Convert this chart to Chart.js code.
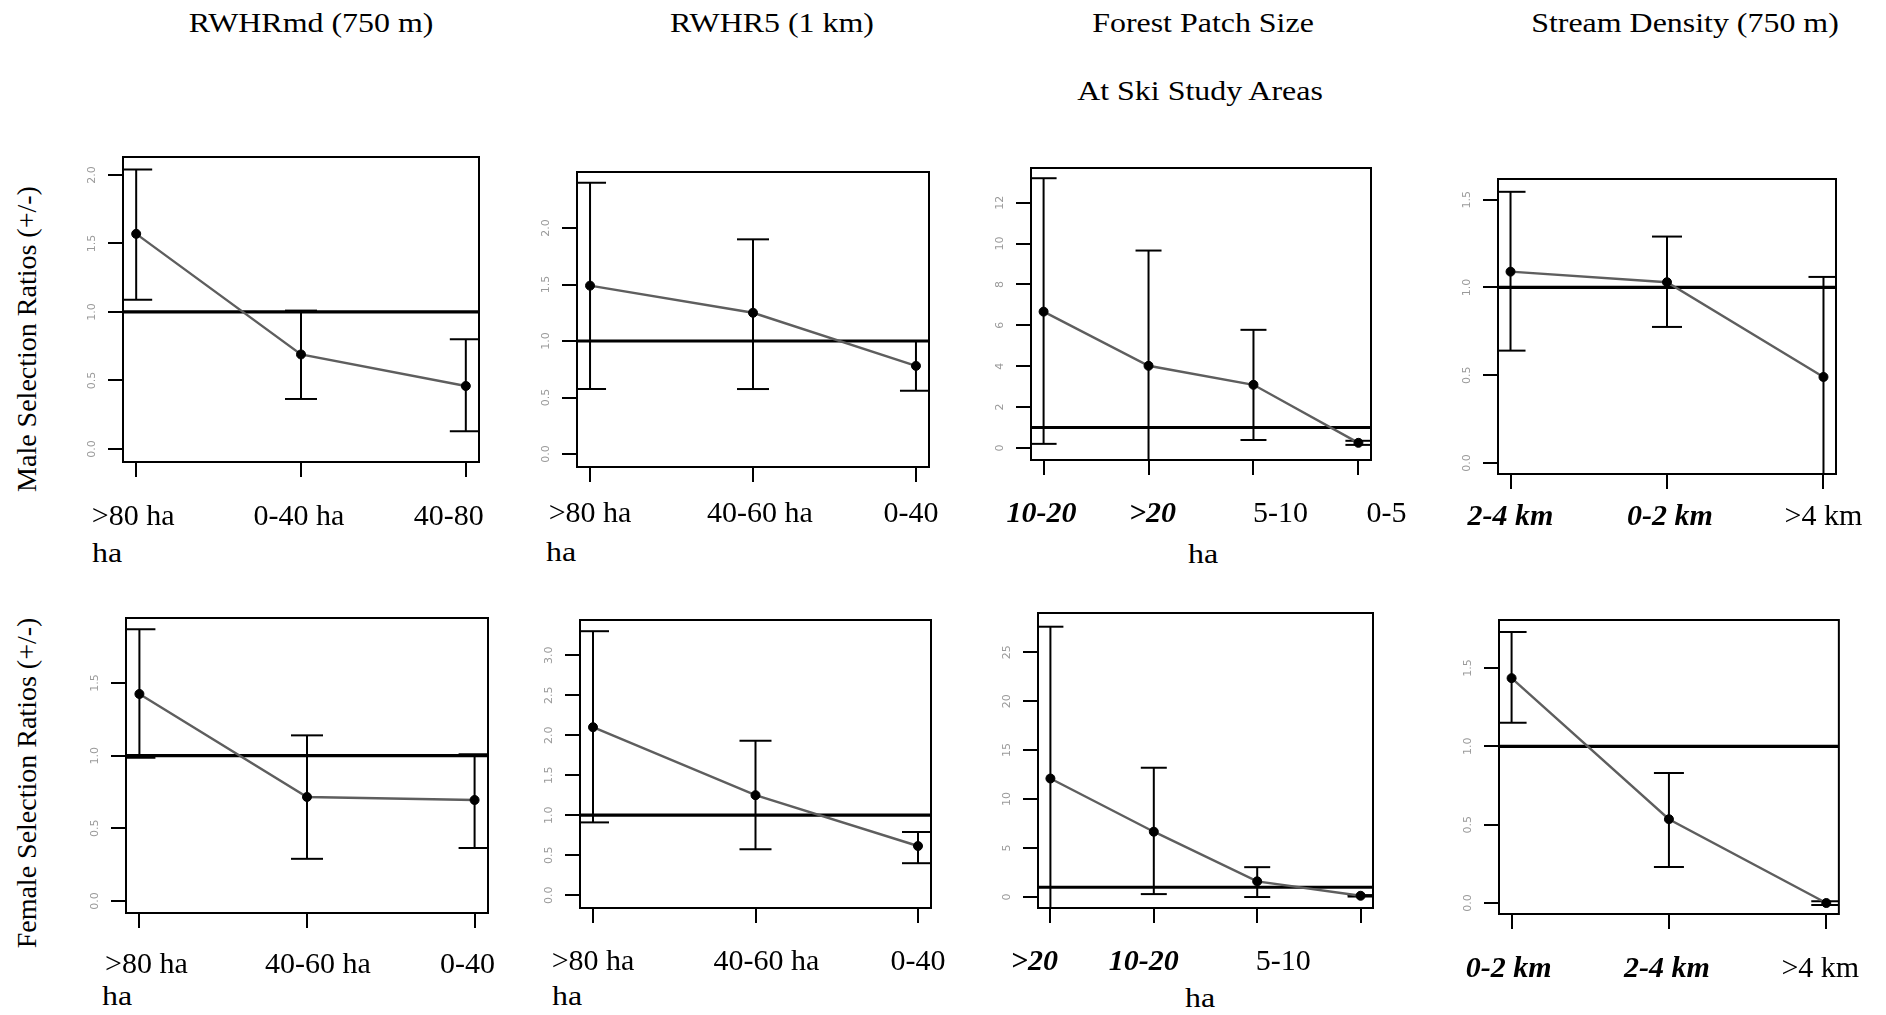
<!DOCTYPE html>
<html><head><meta charset="utf-8">
<script src="https://cdn.jsdelivr.net/npm/chart.js@4.4.0/dist/chart.umd.min.js"></script>
<style>
html,body{margin:0;padding:0;background:#fff;}
body{width:1886px;height:1015px;position:relative;overflow:hidden;font-family:'Liberation Serif','Times New Roman',serif;}
canvas{position:absolute;}
.t{position:absolute;font-size:28px;line-height:31px;white-space:nowrap;color:#000;}
.ti{transform:translateX(-50%) scaleX(1.14);}
.ha{transform:scaleX(1.14);transform-origin:left center;}
.yt{transform:translate(-50%,-50%) rotate(-90deg);}
</style></head><body>
<div class="t ti" style="left:311px;top:7px">RWHRmd (750 m)</div>
<div class="t ti" style="left:772px;top:7px">RWHR5 (1 km)</div>
<div class="t ti" style="left:1203px;top:7px">Forest Patch Size</div>
<div class="t ti" style="left:1685px;top:7px">Stream Density (750 m)</div>
<div class="t ti" style="left:1200px;top:75px">At Ski Study Areas</div>
<div class="t yt" style="left:26px;top:339px">Male Selection Ratios (+/-)</div>
<div class="t yt" style="left:26px;top:783px">Female Selection Ratios (+/-)</div>
<div class="t ha" style="left:92px;top:537px">ha</div>
<div class="t ha" style="left:546px;top:536px">ha</div>
<div class="t ti" style="left:1203px;top:538px">ha</div>
<div class="t ha" style="left:102px;top:980px">ha</div>
<div class="t ha" style="left:552px;top:980px">ha</div>
<div class="t ti" style="left:1200px;top:982px">ha</div>
<script>
// ---------- Data ----------
// Male, RWHRmd (750 m)
const p1Cats  = ['>80 ha', '0-40 ha', '40-80'];
const p1Ratio = [1.57, 0.69, 0.46];
const p1Upper = [2.04, 1.01, 0.80];
const p1Lower = [1.09, 0.365, 0.13];
const p1YTicks = [0, 0.5, 1, 1.5, 2];
const p1YLabels = ['0.0', '0.5', '1.0', '1.5', '2.0'];
// Male, RWHR5 (1 km)
const p2Cats  = ['>80 ha', '40-60 ha', '0-40'];
const p2Ratio = [1.49, 1.25, 0.78];
const p2Upper = [2.40, 1.90, 1.00];
const p2Lower = [0.575, 0.575, 0.56];
const p2YTicks = [0, 0.5, 1, 1.5, 2];
const p2YLabels = ['0.0', '0.5', '1.0', '1.5', '2.0'];
// Male, Forest Patch Size
const p3Cats  = ['10-20', '>20', '5-10', '0-5'];
const p3Ratio = [6.67, 4.02, 3.09, 0.25];
const p3Upper = [13.2, 9.66, 5.78, 0.35];
const p3Lower = [0.2, -1.5, 0.39, 0.15];
const p3YTicks = [0, 2, 4, 6, 8, 10, 12];
const p3YLabels = ['0', '2', '4', '6', '8', '10', '12'];
// Male, Stream Density (750 m)
const p4Cats  = ['2-4 km', '0-2 km', '>4 km'];
const p4Ratio = [1.09, 1.03, 0.49];
const p4Upper = [1.545, 1.29, 1.06];
const p4Lower = [0.64, 0.775, -0.2];
const p4YTicks = [0, 0.5, 1, 1.5];
const p4YLabels = ['0.0', '0.5', '1.0', '1.5'];
// Female, RWHRmd (750 m)
const p5Cats  = ['>80 ha', '40-60 ha', '0-40'];
const p5Ratio = [1.425, 0.716, 0.695];
const p5Upper = [1.87, 1.14, 1.01];
const p5Lower = [0.985, 0.29, 0.365];
const p5YTicks = [0, 0.5, 1, 1.5];
const p5YLabels = ['0.0', '0.5', '1.0', '1.5'];
// Female, RWHR5 (1 km)
const p6Cats  = ['>80 ha', '40-60 ha', '0-40'];
const p6Ratio = [2.10, 1.25, 0.615];
const p6Upper = [3.30, 1.93, 0.79];
const p6Lower = [0.91, 0.575, 0.40];
const p6YTicks = [0, 0.5, 1, 1.5, 2, 2.5, 3];
const p6YLabels = ['0.0', '0.5', '1.0', '1.5', '2.0', '2.5', '3.0'];
// Female, Forest Patch Size
const p7Cats  = ['>20', '10-20', '5-10', ''];
const p7Ratio = [12.1, 6.67, 1.6, 0.13];
const p7Upper = [27.6, 13.2, 3.05, 0.2];
const p7Lower = [-3, 0.3, 0.0, 0.05];
const p7YTicks = [0, 5, 10, 15, 20, 25];
const p7YLabels = ['0', '5', '10', '15', '20', '25'];
// Female, Stream Density (750 m)
const p8Cats  = ['0-2 km', '2-4 km', '>4 km'];
const p8Ratio = [1.435, 0.535, 0.0];
const p8Upper = [1.73, 0.83, 0.012];
const p8Lower = [1.15, 0.23, -0.012];
const p8YTicks = [0, 0.5, 1, 1.5];
const p8YLabels = ['0.0', '0.5', '1.0', '1.5'];

const refValue = 1;

// ---------- Layout / style ----------
const E3 = [false, false, false];
const panels = [
  {box:[123,157,479,462], x:[0.92,3.08], y:[-0.095,2.131], lp:22, dx:[-3,-2,-17], cats:p1Cats, emph:E3, ratio:p1Ratio, upper:p1Upper, lower:p1Lower, yTicks:p1YTicks, yLabels:p1YLabels, cap:16},
  {box:[577,172,929,467], x:[0.92,3.08], y:[-0.115,2.496], lp:14, dx:[0,7,-5], cats:p2Cats, emph:E3, ratio:p2Ratio, upper:p2Upper, lower:p2Lower, yTicks:p2YTicks, yLabels:p2YLabels, cap:16},
  {box:[1031,168,1371,460], x:[0.88,4.12], y:[-0.59,13.7], lp:21, dx:[-2,4,27,28], cats:p3Cats, emph:[true,true,false,false], ratio:p3Ratio, upper:p3Upper, lower:p3Lower, yTicks:p3YTicks, yLabels:p3YLabels, cap:13},
  {box:[1498,179,1836,474], x:[0.92,3.08], y:[-0.063,1.618], lp:10, dx:[0,3,0], cats:p4Cats, emph:[true,true,false], ratio:p4Ratio, upper:p4Upper, lower:p4Lower, yTicks:p4YTicks, yLabels:p4YLabels, cap:15},
  {box:[126,618,488,913], x:[0.92,3.08], y:[-0.083,1.948], lp:19, dx:[7,11,-7], cats:p5Cats, emph:E3, ratio:p5Ratio, upper:p5Upper, lower:p5Lower, yTicks:p5YTicks, yLabels:p5YLabels, cap:16},
  {box:[580,620,931,908], x:[0.92,3.08], y:[-0.16,3.44], lp:21, dx:[0,11,0], cats:p6Cats, emph:E3, ratio:p6Ratio, upper:p6Upper, lower:p6Lower, yTicks:p6YTicks, yLabels:p6YLabels, cap:16},
  {box:[1038,613,1373,908], x:[0.88,4.12], y:[-1.12,29.0], lp:21, dx:[-16,-10,26,0], cats:p7Cats, emph:[true,true,false,false], ratio:p7Ratio, upper:p7Upper, lower:p7Lower, yTicks:p7YTicks, yLabels:p7YLabels, cap:13},
  {box:[1499,620,1839,914], x:[0.92,3.08], y:[-0.07,1.806], lp:22, dx:[-3,-2,-6], cats:p8Cats, emph:[true,true,false], ratio:p8Ratio, upper:p8Upper, lower:p8Lower, yTicks:p8YTicks, yLabels:p8YLabels, cap:15}
];

const PADL = 10, YW = 60, PADR = 50, PADT = 10, XH = 110;

const boxPlugin = {
  id: 'frame',
  afterDatasetsDraw(chart) {
    const a = chart.chartArea, c = chart.ctx;
    c.save();
    c.strokeStyle = '#000';
    c.lineWidth = 2;
    c.strokeRect(a.left, a.top, a.right - a.left, a.bottom - a.top);
    c.restore();
  }
};
const yLabelPlugin = {
  id: 'ylab',
  afterDraw(chart, args, opts) {
    const s = chart.scales.y, c = chart.ctx;
    c.save();
    c.fillStyle = '#9a9a9a';
    c.font = '11px "DejaVu Sans", sans-serif';
    c.textAlign = 'center';
    c.textBaseline = 'middle';
    s.ticks.forEach((t, i) => {
      const py = s.getPixelForValue(t.value);
      c.save();
      c.translate(chart.chartArea.left - 31, py);
      c.rotate(-Math.PI / 2);
      c.fillText(opts.labels[i], 0, 0);
      c.restore();
    });
    c.restore();
  }
};
// nudges individual x tick labels horizontally, as placed in the original figure
const xLabelShift = {
  id: 'xshift',
  beforeDraw(chart, args, opts) {
    const s = chart.scales.x;
    if (!s || typeof s.getLabelItems !== 'function') return;
    const items = s.getLabelItems(chart.chartArea);
    items.forEach((it, i) => {
      if (!it._shifted && it.options && it.options.translation) {
        it.options.translation[0] += (opts.dx[i] || 0);
        it._shifted = true;
      }
    });
  }
};

panels.forEach(p => {
  const [L, T, R, B] = p.box;
  const cv = document.createElement('canvas');
  const w = (R - L) + PADL + YW + PADR;
  const h = (B - T) + PADT + XH;
  cv.width = w; cv.height = h;
  cv.style.left = (L - PADL - YW) + 'px';
  cv.style.top = (T - PADT) + 'px';
  cv.style.width = w + 'px'; cv.style.height = h + 'px';
  document.body.appendChild(cv);

  const errData = [];
  const capData = [];
  p.ratio.forEach((v, i) => {
    errData.push({x: i + 1, y: p.lower[i]}, {x: i + 1, y: p.upper[i]}, {x: i + 1.5, y: null});
    capData.push({x: i + 1, y: p.upper[i]}, {x: i + 1, y: p.lower[i]});
  });

  new Chart(cv, {
    type: 'line',
    data: {
      datasets: [
        {data: [{x: p.x[0], y: refValue}, {x: p.x[1], y: refValue}], borderColor: '#000', borderWidth: 3.2, pointRadius: 0, order: 4},
        {data: errData, borderColor: '#000', borderWidth: 2, pointRadius: 0, spanGaps: false, order: 3},
        {data: capData, showLine: false, pointStyle: 'line', pointRadius: p.cap, pointBorderWidth: 2, pointBorderColor: '#000', borderColor: '#000', order: 2},
        {data: p.ratio.map((v, i) => ({x: i + 1, y: v})), borderColor: '#5e5e5e', borderWidth: 2.4,
         pointRadius: 4.5, pointBackgroundColor: '#000', pointBorderColor: '#000', pointBorderWidth: 1, order: 1}
      ]
    },
    options: {
      responsive: false, animation: false, devicePixelRatio: 1,
      layout: {autoPadding: false, padding: {left: PADL, right: PADR, top: PADT, bottom: 0}},
      plugins: {legend: {display: false}, tooltip: {enabled: false}, ylab: {labels: p.yLabels}, xshift: {dx: p.dx}},
      scales: {
        x: {
          type: 'linear', min: p.x[0], max: p.x[1],
          afterBuildTicks: s => { s.ticks = p.cats.map((c, i) => ({value: i + 1})); },
          afterFit: s => { s.height = XH; },
          border: {display: false},
          grid: {drawOnChartArea: false, drawTicks: true, tickLength: 15, color: '#000', lineWidth: 2},
          ticks: {
            autoSkip: false, maxRotation: 0, minRotation: 0, padding: p.lp, color: '#000',
            callback: (v, i) => p.cats[i],
            font: ctx => ({family: "'Liberation Serif', 'Times New Roman', serif", size: 30,
              style: p.emph[ctx.index] ? 'italic' : 'normal', weight: p.emph[ctx.index] ? 'bold' : 'normal'})
          }
        },
        y: {
          type: 'linear', min: p.y[0], max: p.y[1],
          afterBuildTicks: s => { s.ticks = p.yTicks.map(v => ({value: v})); },
          afterFit: s => { s.width = YW; },
          border: {display: false},
          grid: {drawOnChartArea: false, drawTicks: true, tickLength: 15, color: '#000', lineWidth: 2},
          ticks: {display: false}
        }
      }
    },
    plugins: [boxPlugin, yLabelPlugin, xLabelShift]
  });
});
</script>
</body></html>
